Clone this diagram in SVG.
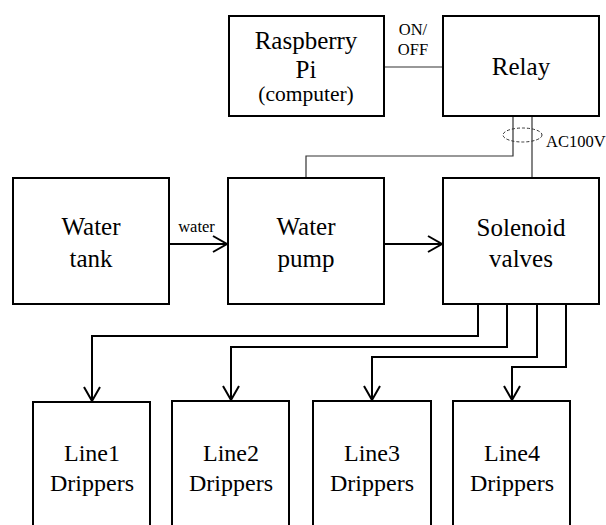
<svg xmlns="http://www.w3.org/2000/svg" width="606" height="525" viewBox="0 0 606 525">
<style>
text{font-family:'Liberation Serif','Times New Roman',Times,'DejaVu Serif',serif;fill:#000}
.box{fill:#fff;stroke:#000;stroke-width:2}
.t{font-size:25px;text-anchor:middle}
.tl{font-size:24px;text-anchor:middle}
.s{font-size:16.5px}
.thin{fill:none;stroke:#333;stroke-width:1.2}
.thick{fill:none;stroke:#000;stroke-width:2}
</style>
<defs>
<marker id="arr" markerUnits="userSpaceOnUse" markerWidth="20" markerHeight="20" viewBox="-16 -10 20 20" refX="0" refY="0" orient="auto">
<path d="M-14,-8 L0,0 L-14,8" fill="none" stroke="#000" stroke-width="2"/>
</marker>
</defs>
<rect width="606" height="525" fill="#fff"/>
<g id="connectors">
<line class="thin" x1="384" y1="67" x2="443" y2="67"/>
<polyline class="thin" points="513,116 513,156 306,156 306,178"/>
<line class="thin" x1="532" y1="116" x2="532" y2="178"/>
<ellipse cx="522.5" cy="135" rx="19.5" ry="7" fill="none" stroke="#333" stroke-width="1" stroke-dasharray="3,2"/>
<line class="thick" x1="169" y1="244" x2="227" y2="244" marker-end="url(#arr)"/>
<line class="thick" x1="384" y1="244" x2="442" y2="244" marker-end="url(#arr)"/>
<polyline class="thick" points="478,304 478,336 92,336 92,401" marker-end="url(#arr)"/>
<polyline class="thick" points="507,304 507,347 231,347 231,400" marker-end="url(#arr)"/>
<polyline class="thick" points="537,304 537,357 372,357 372,400" marker-end="url(#arr)"/>
<polyline class="thick" points="566,304 566,367 512,367 512,400" marker-end="url(#arr)"/>
<text class="s" x="413" y="35" text-anchor="middle" font-family="Liberation Serif, serif">ON/</text>
<text class="s" x="413" y="55" text-anchor="middle" font-family="Liberation Serif, serif">OFF</text>
<text class="s" x="196.5" y="232" text-anchor="middle" font-family="Liberation Serif, serif">water</text>
<text class="s" x="546" y="147" font-family="Liberation Serif, serif">AC100V</text>
</g>
<g id="raspberry">
<rect class="box" x="229" y="16" width="155" height="100"/>
<text class="t" x="306" y="49" font-family="Liberation Serif, serif">Raspberry</text>
<text class="t" x="306" y="78" font-family="Liberation Serif, serif">Pi</text>
<text class="t" x="306" y="101" font-family="Liberation Serif, serif" style="font-size:21.5px">(computer)</text>
</g>
<g id="relay">
<rect class="box" x="443" y="16" width="156" height="100"/>
<text class="t" x="521" y="75" font-family="Liberation Serif, serif">Relay</text>
</g>
<g id="tank">
<rect class="box" x="13" y="178" width="156" height="126"/>
<text class="t" x="91" y="235" font-family="Liberation Serif, serif">Water</text>
<text class="t" x="91" y="267" font-family="Liberation Serif, serif">tank</text>
</g>
<g id="pump">
<rect class="box" x="228" y="178" width="156" height="126"/>
<text class="t" x="306" y="235" font-family="Liberation Serif, serif">Water</text>
<text class="t" x="306" y="267" font-family="Liberation Serif, serif">pump</text>
</g>
<g id="solenoid">
<rect class="box" x="443" y="178" width="156" height="126"/>
<text class="t" x="521" y="236" font-family="Liberation Serif, serif">Solenoid</text>
<text class="t" x="521" y="267" font-family="Liberation Serif, serif">valves</text>
</g>
<g id="line1">
<rect class="box" x="33" y="402" width="117" height="140"/>
<text class="tl" x="92" y="461" font-family="Liberation Serif, serif">Line1</text>
<text class="tl" x="92" y="491" font-family="Liberation Serif, serif">Drippers</text>
</g>
<g id="line2">
<rect class="box" x="172" y="401" width="117" height="140"/>
<text class="tl" x="231" y="461" font-family="Liberation Serif, serif">Line2</text>
<text class="tl" x="231" y="491" font-family="Liberation Serif, serif">Drippers</text>
</g>
<g id="line3">
<rect class="box" x="313" y="401" width="118" height="140"/>
<text class="tl" x="372" y="461" font-family="Liberation Serif, serif">Line3</text>
<text class="tl" x="372" y="491" font-family="Liberation Serif, serif">Drippers</text>
</g>
<g id="line4">
<rect class="box" x="453" y="401" width="117" height="140"/>
<text class="tl" x="512" y="461" font-family="Liberation Serif, serif">Line4</text>
<text class="tl" x="512" y="491" font-family="Liberation Serif, serif">Drippers</text>
</g>
</svg>
